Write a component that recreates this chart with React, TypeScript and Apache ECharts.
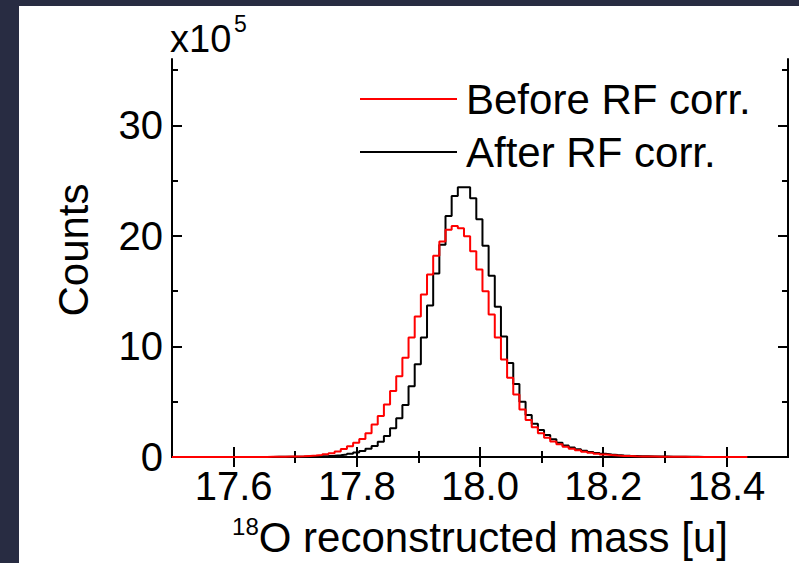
import React, { useEffect, useRef } from "react";
import * as echarts from "echarts";

// Histogram bins: left edge of first bin and bin width (u)
const BIN_START = 17.504;
const BIN_WIDTH = 0.01;

// Counts (x10^5) per bin
const beforeRF = [
  0, 0, 0, 0, 0, 0, 0, 0, 0, 0, 0, 0, 0.01, 0.01, 0.01, 0.02, 0.02, 0.03, 0.04, 0.05,
  0.07, 0.1, 0.13, 0.18, 0.25, 0.35, 0.5, 0.72, 0.98, 1.29, 1.62, 2.15, 2.95, 3.7, 4.75,
  5.96, 7.3, 8.97, 10.8, 12.7, 14.7, 16.5, 18.2, 19.5, 20.56, 20.9, 20.7, 19.96, 18.6,
  16.95, 15.0, 12.9, 10.8, 8.82, 7.16, 5.66, 4.3, 3.35, 2.7, 2.15, 1.75, 1.4, 1.15, 0.92,
  0.75, 0.6, 0.48, 0.38, 0.3, 0.22, 0.17, 0.13, 0.1, 0.08, 0.06, 0.05, 0.04, 0.04, 0.03,
  0.03, 0.02, 0.02, 0.02, 0.01, 0.01, 0.01, 0.01, 0.01, 0.01, 0.01, 0.01, 0.01, 0.01,
];

const afterRF = [
  0, 0, 0, 0, 0, 0, 0, 0, 0, 0, 0, 0, 0.01, 0.01, 0.01, 0.01, 0.02, 0.02, 0.02, 0.03,
  0.03, 0.04, 0.05, 0.07, 0.09, 0.12, 0.16, 0.22, 0.3, 0.4, 0.55, 0.75, 1.0, 1.38, 1.9,
  2.6, 3.5, 4.7, 6.4, 8.4, 10.8, 13.7, 16.6, 19.2, 21.8, 23.6, 24.4, 24.4, 23.4, 21.5,
  19.1, 16.4, 13.6, 10.9, 8.5, 6.6, 5.0, 3.8, 3.0, 2.45, 2.0, 1.6, 1.3, 1.05, 0.85, 0.7,
  0.57, 0.46, 0.37, 0.29, 0.23, 0.18, 0.14, 0.11, 0.09, 0.07, 0.06, 0.05, 0.04, 0.04,
  0.03, 0.03, 0.02, 0.02, 0.02, 0.01, 0.01, 0.01, 0.01, 0.01, 0.01, 0.01, 0.01,
];

const xMajorTicks = [17.6, 17.8, 18.0, 18.2, 18.4];
const xMinorTicks = [17.7, 17.9, 18.1, 18.3];
const yMajorTicks = [0, 10, 20, 30];
const yMinorTicks = [5, 15, 25, 35];

const X_MIN = 17.5;
const X_MAX = 18.5;
const Y_MIN = 0;
const Y_MAX = 36;

const FONT = "'Liberation Sans', Arial, Helvetica, sans-serif";

function toSteps(values: number[]): number[][] {
  const pts: number[][] = [[X_MIN, values[0]]];
  values.forEach((v, k) => pts.push([BIN_START + k * BIN_WIDTH, v]));
  pts.push([BIN_START + values.length * BIN_WIDTH, values[values.length - 1]]);
  return pts;
}

export default function App() {
  const ref = useRef<HTMLDivElement>(null);

  useEffect(() => {
    if (!ref.current) return;
    const chart = echarts.init(ref.current, undefined, { renderer: "svg" });

    const lineStyle = { color: "#000", width: 2 };
    const xAxisBase = {
      type: "value" as const,
      min: X_MIN,
      max: X_MAX,
      gridIndex: 0,
      splitLine: { show: false },
    };
    const yAxisBase = {
      type: "value" as const,
      min: Y_MIN,
      max: Y_MAX,
      gridIndex: 0,
      splitLine: { show: false },
    };

    chart.setOption({
      animation: false,
      backgroundColor: "transparent",
      textStyle: { fontFamily: FONT },
      graphic: [
        {
          type: "rect",
          z: -10,
          shape: { x: 19, y: 6, width: 780, height: 557 },
          style: { fill: "#ffffff" },
          silent: true,
        },
        {
          type: "text",
          x: 170,
          y: 39,
          style: {
            text: "x10",
            fontSize: 38,
            fontFamily: FONT,
            fill: "#000",
            verticalAlign: "middle",
            align: "left",
          },
        },
        {
          type: "text",
          x: 234,
          y: 24,
          style: {
            text: "5",
            fontSize: 23,
            fontFamily: FONT,
            fill: "#000",
            verticalAlign: "middle",
            align: "left",
          },
        },
      ],
      grid: { left: 172, top: 59, width: 616, height: 400, containLabel: false },
      legend: {
        orient: "vertical",
        left: 360,
        top: 78,
        padding: 0,
        itemWidth: 97,
        itemHeight: 2,
        itemGap: 11,
        icon: "rect",
        data: ["Before RF corr.", "After RF corr."],
        textStyle: {
          fontSize: 42,
          fontFamily: FONT,
          color: "#000",
          lineHeight: 42,
          padding: [0, 0, 0, 4],
        },
      },
      xAxis: [
        {
          ...xAxisBase,
          position: "bottom",
          axisLine: { show: true, lineStyle },
          axisTick: { show: true, inside: true, length: 10, lineStyle, customValues: xMajorTicks },
          axisLabel: {
            show: true,
            customValues: xMajorTicks,
            margin: 9,
            fontSize: 40,
            fontFamily: FONT,
            color: "#000",
            formatter: (v: number) => v.toFixed(1),
          },
          name: "{s|18}{m|O reconstructed mass [u]}",
          nameLocation: "middle",
          nameGap: 57,
          nameTextStyle: {
            rich: {
              s: { fontSize: 24, lineHeight: 12, verticalAlign: "top", fontFamily: FONT, color: "#000" },
              m: { fontSize: 42, lineHeight: 46, fontFamily: FONT, color: "#000" },
            },
          },
        },
        {
          ...xAxisBase,
          position: "bottom",
          axisLine: { show: false },
          axisTick: { show: true, inside: true, length: 6, lineStyle, customValues: xMinorTicks },
          axisLabel: { show: false },
        },
        {
          ...xAxisBase,
          position: "top",
          axisLine: { show: true, lineStyle },
          axisTick: { show: true, inside: true, length: 10, lineStyle, customValues: xMajorTicks },
          axisLabel: { show: false },
        },
        {
          ...xAxisBase,
          position: "top",
          axisLine: { show: false },
          axisTick: { show: true, inside: true, length: 6, lineStyle, customValues: xMinorTicks },
          axisLabel: { show: false },
        },
      ],
      yAxis: [
        {
          ...yAxisBase,
          position: "left",
          axisLine: { show: true, lineStyle },
          axisTick: { show: true, inside: true, length: 10, lineStyle, customValues: yMajorTicks },
          axisLabel: {
            show: true,
            customValues: yMajorTicks,
            margin: 9,
            fontSize: 40,
            fontFamily: FONT,
            color: "#000",
          },
          name: "Counts",
          nameLocation: "middle",
          nameGap: 78,
          nameTextStyle: {
            fontSize: 42,
            fontFamily: FONT,
            color: "#000",
            padding: [0, 0, 0, 16],
          },
        },
        {
          ...yAxisBase,
          position: "left",
          axisLine: { show: false },
          axisTick: { show: true, inside: true, length: 6, lineStyle, customValues: yMinorTicks },
          axisLabel: { show: false },
        },
        {
          ...yAxisBase,
          position: "right",
          axisLine: { show: true, lineStyle },
          axisTick: { show: true, inside: true, length: 10, lineStyle, customValues: yMajorTicks },
          axisLabel: { show: false },
        },
        {
          ...yAxisBase,
          position: "right",
          axisLine: { show: false },
          axisTick: { show: true, inside: true, length: 6, lineStyle, customValues: yMinorTicks },
          axisLabel: { show: false },
        },
      ],
      series: [
        {
          name: "After RF corr.",
          type: "line",
          step: "end",
          xAxisIndex: 0,
          yAxisIndex: 0,
          showSymbol: false,
          symbol: "none",
          color: "#000000",
          itemStyle: { color: "#000000" },
          lineStyle: { color: "#000000", width: 2 },
          data: toSteps(afterRF),
          z: 3,
        },
        {
          name: "Before RF corr.",
          type: "line",
          step: "end",
          xAxisIndex: 0,
          yAxisIndex: 0,
          showSymbol: false,
          symbol: "none",
          color: "#ff0000",
          itemStyle: { color: "#ff0000" },
          lineStyle: { color: "#ff0000", width: 2 },
          data: toSteps(beforeRF),
          z: 4,
        },
      ],
    });

    return () => chart.dispose();
  }, []);

  return (
    <div
      style={{
        position: "fixed",
        left: 0,
        top: 0,
        width: 799,
        height: 563,
        background: "#282c42",
      }}
    >
      <div ref={ref} style={{ width: 799, height: 563 }} />
    </div>
  );
}
